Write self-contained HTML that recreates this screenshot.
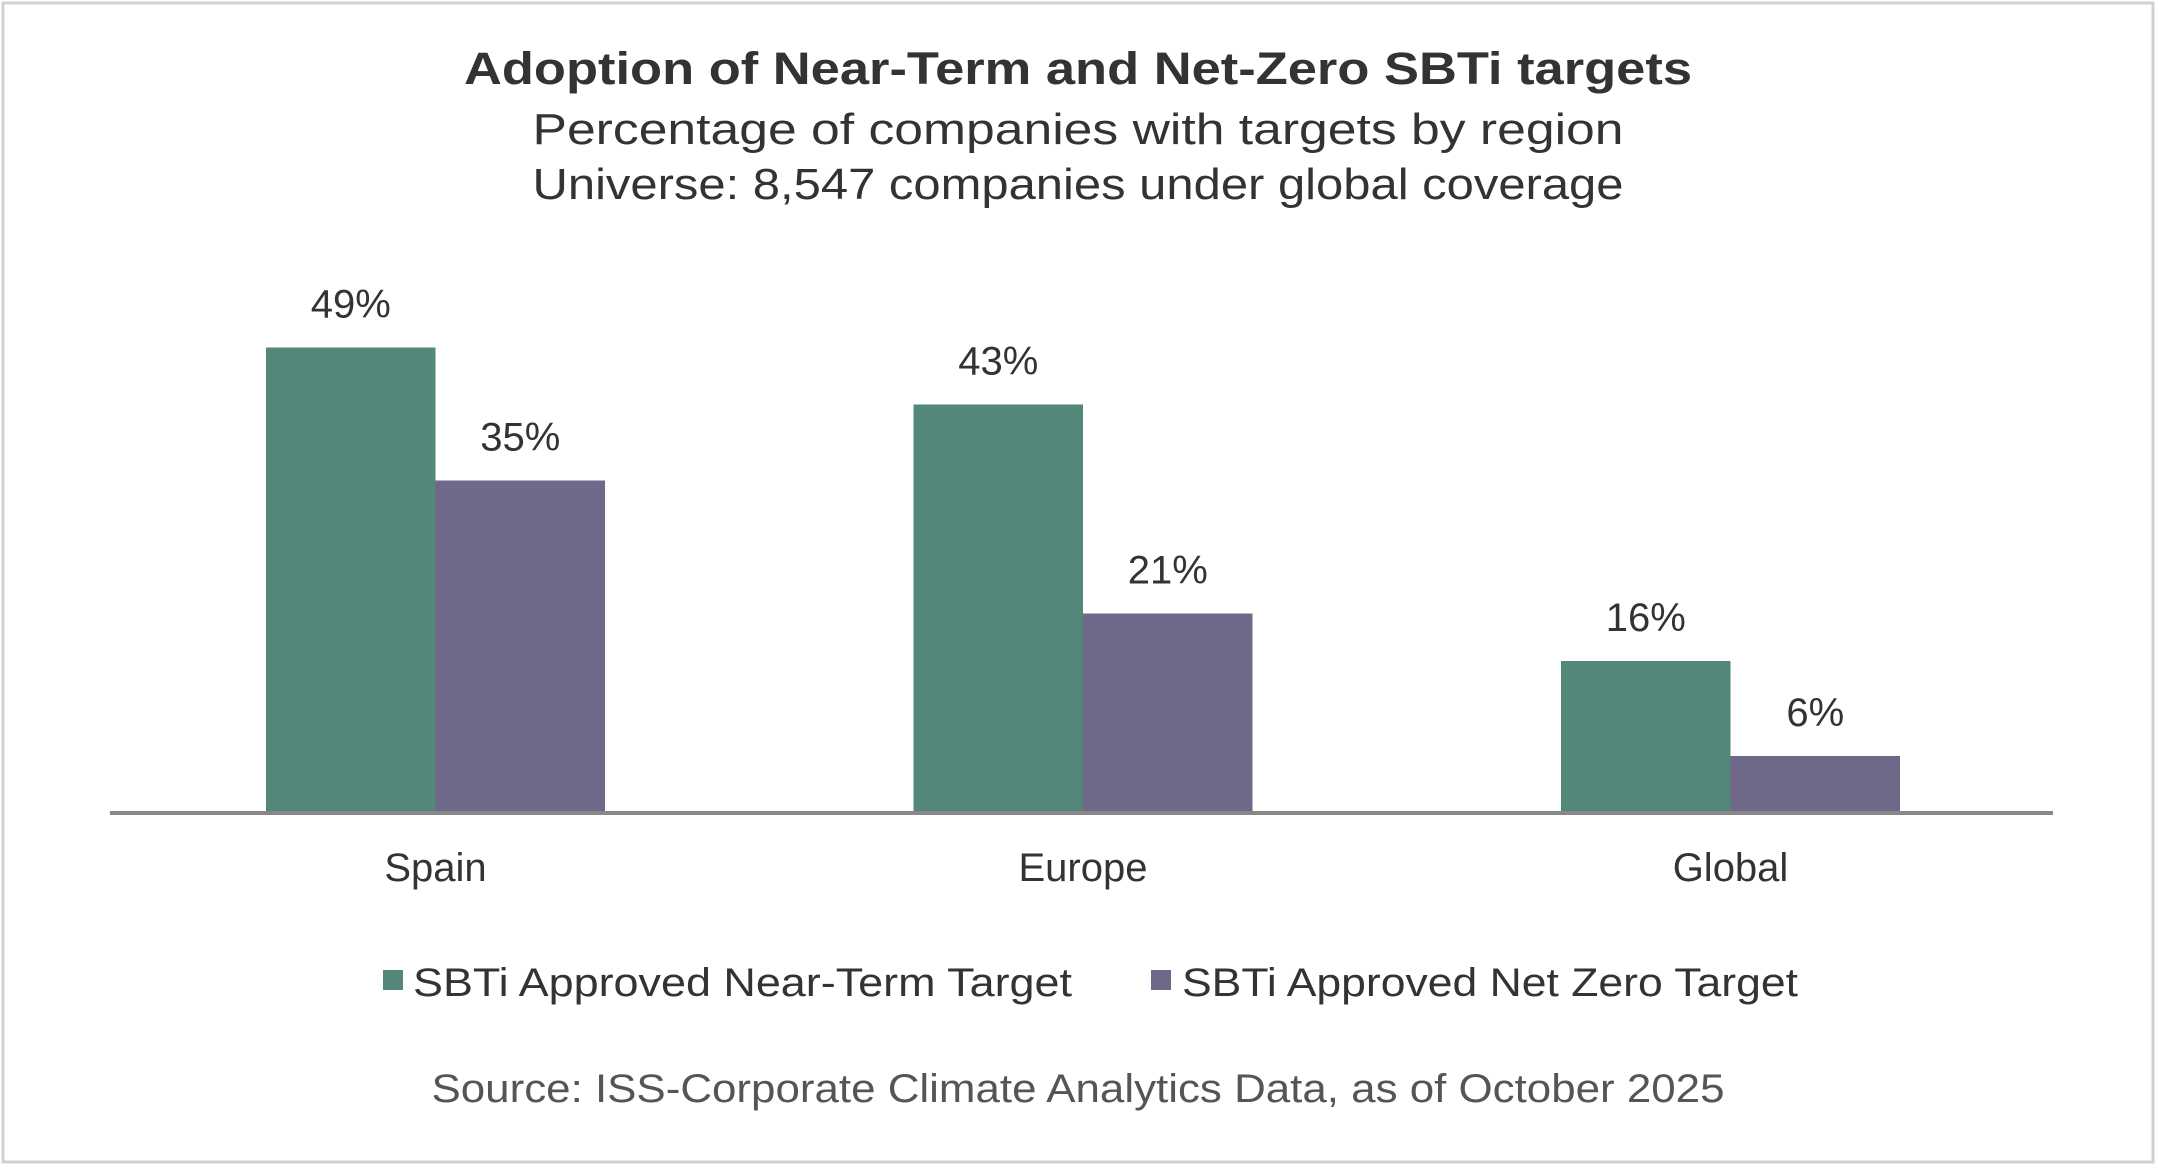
<!DOCTYPE html>
<html><head><meta charset="utf-8"><style>
html,body{margin:0;padding:0;background:#fff}
svg{display:block;font-family:"Liberation Sans",sans-serif}
</style></head><body>
<svg id="chart" width="2158" height="1168" viewBox="0 0 2158 1168">
<rect x="3" y="3" width="2150" height="1159" fill="#fff" stroke="#d0d0d0" stroke-width="3"/>
<text x="1078" y="84" text-anchor="middle" font-size="45" font-weight="bold" fill="#333" textLength="1228" lengthAdjust="spacingAndGlyphs">Adoption of Near-Term and Net-Zero SBTi targets</text>
<text x="1078" y="144" text-anchor="middle" font-size="44" fill="#333" textLength="1091" lengthAdjust="spacingAndGlyphs">Percentage of companies with targets by region</text>
<text x="1078" y="199" text-anchor="middle" font-size="44" fill="#333" textLength="1091" lengthAdjust="spacingAndGlyphs">Universe: 8,547 companies under global coverage</text>
<g id="bars"></g>
<line x1="110" y1="813" x2="2053" y2="813" stroke="#888" stroke-width="4"/>
<rect x="383" y="970" width="20" height="20" fill="#52877A"/>
<text x="413" y="996" font-size="40" fill="#333" textLength="659" lengthAdjust="spacingAndGlyphs">SBTi Approved Near-Term Target</text>
<rect x="1151" y="970" width="20" height="20" fill="#6F6889"/>
<text x="1182" y="996" font-size="40" fill="#333" textLength="616" lengthAdjust="spacingAndGlyphs">SBTi Approved Net Zero Target</text>
<text x="1078" y="1102" text-anchor="middle" font-size="40" fill="#555" textLength="1293" lengthAdjust="spacingAndGlyphs">Source: ISS-Corporate Climate Analytics Data, as of October 2025</text>
</svg>
<script>
const categories = ["Spain", "Europe", "Global"];
const nearTerm = [49, 43, 16];
const netZero = [35, 21, 6];
const seriesColors = ["#52877A", "#6F6889"];
const ns = "http://www.w3.org/2000/svg";
const g = document.getElementById("bars");
const baseY = 813, pxPerPct = 9.5, firstX = 266, groupStep = 647.5, barW = 169.5;
function yScale(v){ return baseY - v * pxPerPct; }
function xScale(i, s){ return firstX + i * groupStep + s * barW; }
[nearTerm, netZero].forEach((series, s) => {
  series.forEach((v, i) => {
    const r = document.createElementNS(ns, "rect");
    r.setAttribute("x", xScale(i, s));
    r.setAttribute("y", yScale(v));
    r.setAttribute("width", barW);
    r.setAttribute("height", baseY - yScale(v));
    r.setAttribute("fill", seriesColors[s]);
    
    
    g.appendChild(r);
    const t = document.createElementNS(ns, "text");
    t.setAttribute("x", xScale(i, s) + barW / 2);
    t.setAttribute("y", yScale(v) - 30);
    t.setAttribute("text-anchor", "middle");
    t.setAttribute("font-size", "40");
    t.setAttribute("fill", "#333");
    t.textContent = v + "%";
    
    
    g.appendChild(t);
  });
});
categories.forEach((c, i) => {
  const t = document.createElementNS(ns, "text");
  t.setAttribute("x", xScale(i, 1));
  t.setAttribute("y", 881);
  t.setAttribute("text-anchor", "middle");
  t.setAttribute("font-size", "40");
  t.setAttribute("fill", "#333");
  t.textContent = c;
  
  
  g.appendChild(t);
});
</script>
</body></html>
